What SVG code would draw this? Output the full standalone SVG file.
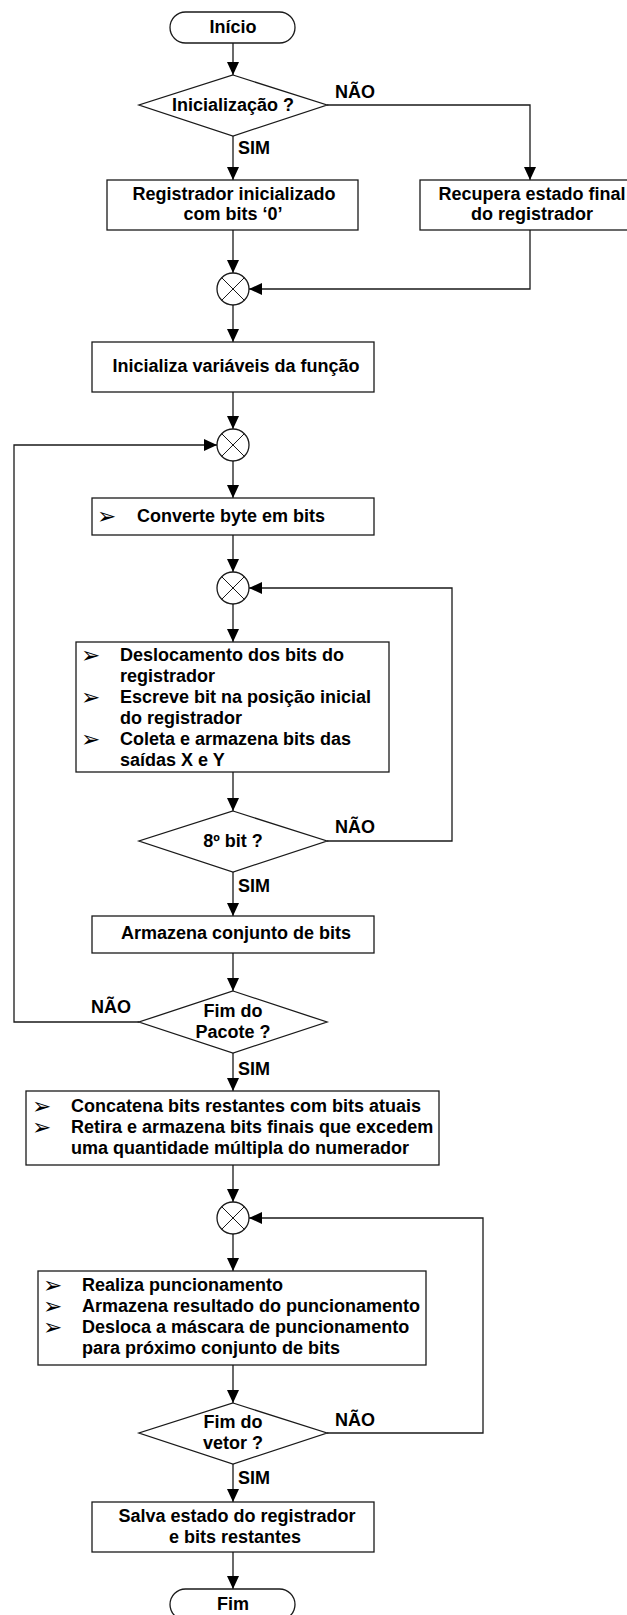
<svg xmlns="http://www.w3.org/2000/svg" width="627" height="1615" viewBox="0 0 627 1615">
  <style>
    .shape { fill: #fff; stroke: #1a1a1a; stroke-width: 1.3; }
    .link { fill: none; stroke: #1a1a1a; stroke-width: 1.3; }
    .cross { fill: none; stroke: #1a1a1a; stroke-width: 1; }
    text { font-family: "Liberation Sans", Arial, sans-serif; font-weight: bold; font-size: 18px; fill: #000; }
    .c { text-anchor: middle; }
    .bul { font-family: "DejaVu Sans", sans-serif; font-weight: normal; font-size: 23px; }
  </style>
  <defs>
    <marker id="arrow" markerUnits="userSpaceOnUse" markerWidth="13" markerHeight="12" refX="13" refY="6" orient="auto">
      <path d="M0,0 L13,6 L0,12 z" fill="#000"/>
    </marker>
    <g id="junction">
      <circle cx="0" cy="0" r="16" class="shape" stroke-width="1"/>
      <path d="M-11.3,-11.3 L11.3,11.3 M11.3,-11.3 L-11.3,11.3" class="cross"/>
    </g>
  </defs>

  <!-- connectors -->
  <g id="connectors">
    <path class="link" d="M233,43 V75" marker-end="url(#arrow)"/>
    <path class="link" d="M327,105 H530 V180" marker-end="url(#arrow)"/>
    <path class="link" d="M233,136 V180" marker-end="url(#arrow)"/>
    <path class="link" d="M233,230 V273" marker-end="url(#arrow)"/>
    <path class="link" d="M530,230 V289 H249" marker-end="url(#arrow)"/>
    <path class="link" d="M233,305 V342" marker-end="url(#arrow)"/>
    <path class="link" d="M233,392 V429" marker-end="url(#arrow)"/>
    <path class="link" d="M139,1022 H14 V445 H217" marker-end="url(#arrow)"/>
    <path class="link" d="M233,461 V498" marker-end="url(#arrow)"/>
    <path class="link" d="M233,535 V572" marker-end="url(#arrow)"/>
    <path class="link" d="M327,841 H452 V588 H249" marker-end="url(#arrow)"/>
    <path class="link" d="M233,604 V642" marker-end="url(#arrow)"/>
    <path class="link" d="M233,772 V811" marker-end="url(#arrow)"/>
    <path class="link" d="M233,872 V916" marker-end="url(#arrow)"/>
    <path class="link" d="M233,953 V991" marker-end="url(#arrow)"/>
    <path class="link" d="M233,1053 V1091" marker-end="url(#arrow)"/>
    <path class="link" d="M233,1165 V1202" marker-end="url(#arrow)"/>
    <path class="link" d="M327,1433 H483 V1218 H249" marker-end="url(#arrow)"/>
    <path class="link" d="M233,1234 V1271" marker-end="url(#arrow)"/>
    <path class="link" d="M233,1365 V1403" marker-end="url(#arrow)"/>
    <path class="link" d="M233,1464 V1502" marker-end="url(#arrow)"/>
    <path class="link" d="M233,1552 V1589" marker-end="url(#arrow)"/>
    <!-- branch labels -->
    <text x="335" y="98">NÃO</text>
    <text x="238" y="154">SIM</text>
    <text x="335" y="833">NÃO</text>
    <text x="238" y="892">SIM</text>
    <text x="91" y="1013">NÃO</text>
    <text x="238" y="1075">SIM</text>
    <text x="335" y="1426">NÃO</text>
    <text x="238" y="1484">SIM</text>
  </g>

  <g id="inicio">
    <rect class="shape" x="170" y="12" width="125" height="31" rx="15.5"/>
    <text class="c" x="233" y="33">Início</text>
  </g>

  <g id="dec-inicializacao">
    <polygon class="shape" points="233,75 327,105 233,136 139,105"/>
    <text class="c" x="233" y="111">Inicialização ?</text>
  </g>

  <g id="reg-zero">
    <rect class="shape" x="107" y="180" width="251" height="50"/>
    <text class="c" x="234" y="200">Registrador inicializado</text>
    <text class="c" x="233" y="220">com bits ‘0’</text>
  </g>

  <g id="recupera">
    <rect class="shape" x="420" y="180" width="222" height="50"/>
    <text class="c" x="532" y="200">Recupera estado final</text>
    <text class="c" x="532" y="220">do registrador</text>
  </g>

  <g id="junc1"><use href="#junction" x="233" y="289"/></g>

  <g id="init-vars">
    <rect class="shape" x="92" y="342" width="282" height="50"/>
    <text class="c" x="236" y="372">Inicializa variáveis da função</text>
  </g>

  <g id="junc2"><use href="#junction" x="233" y="445"/></g>

  <g id="converte">
    <rect class="shape" x="92" y="498" width="282" height="37"/>
    <text class="bul" x="97" y="524">➢</text>
    <text x="137" y="522">Converte byte em bits</text>
  </g>

  <g id="junc3"><use href="#junction" x="233" y="588"/></g>

  <g id="deslocamento">
    <rect class="shape" x="76" y="642" width="313" height="130"/>
    <text class="bul" x="81" y="663">➢</text>
    <text x="120" y="661">Deslocamento dos bits do</text>
    <text x="120" y="682">registrador</text>
    <text class="bul" x="81" y="705">➢</text>
    <text x="120" y="703">Escreve bit na posição inicial</text>
    <text x="120" y="724">do registrador</text>
    <text class="bul" x="81" y="747">➢</text>
    <text x="120" y="745">Coleta e armazena bits das</text>
    <text x="120" y="766">saídas X e Y</text>
  </g>

  <g id="dec-8bit">
    <polygon class="shape" points="233,811 327,841 233,872 139,841"/>
    <text class="c" x="233" y="847">8º bit ?</text>
  </g>

  <g id="armazena">
    <rect class="shape" x="92" y="916" width="282" height="37"/>
    <text class="c" x="236" y="939">Armazena conjunto de bits</text>
  </g>

  <g id="dec-pacote">
    <polygon class="shape" points="233,991 327,1022 233,1053 139,1022"/>
    <text class="c" x="233" y="1017">Fim do</text>
    <text class="c" x="233" y="1038">Pacote ?</text>
  </g>

  <g id="concatena">
    <rect class="shape" x="26" y="1091" width="413" height="74"/>
    <text class="bul" x="32" y="1114">➢</text>
    <text x="71" y="1112">Concatena bits restantes com bits atuais</text>
    <text class="bul" x="32" y="1135">➢</text>
    <text x="71" y="1133">Retira e armazena bits finais que excedem</text>
    <text x="71" y="1154">uma quantidade múltipla do numerador</text>
  </g>

  <g id="junc4"><use href="#junction" x="233" y="1218"/></g>

  <g id="puncionamento">
    <rect class="shape" x="38" y="1271" width="388" height="94"/>
    <text class="bul" x="43" y="1293">➢</text>
    <text x="82" y="1291">Realiza puncionamento</text>
    <text class="bul" x="43" y="1314">➢</text>
    <text x="82" y="1312">Armazena resultado do puncionamento</text>
    <text class="bul" x="43" y="1335">➢</text>
    <text x="82" y="1333">Desloca a máscara de puncionamento</text>
    <text x="82" y="1354">para próximo conjunto de bits</text>
  </g>

  <g id="dec-vetor">
    <polygon class="shape" points="233,1403 327,1433 233,1464 139,1433"/>
    <text class="c" x="233" y="1428">Fim do</text>
    <text class="c" x="233" y="1449">vetor ?</text>
  </g>

  <g id="salva">
    <rect class="shape" x="92" y="1502" width="282" height="50"/>
    <text class="c" x="237" y="1522">Salva estado do registrador</text>
    <text class="c" x="235" y="1543">e bits restantes</text>
  </g>

  <g id="fim">
    <rect class="shape" x="170" y="1589" width="125" height="31" rx="15.5"/>
    <text class="c" x="233" y="1610">Fim</text>
  </g>
</svg>
